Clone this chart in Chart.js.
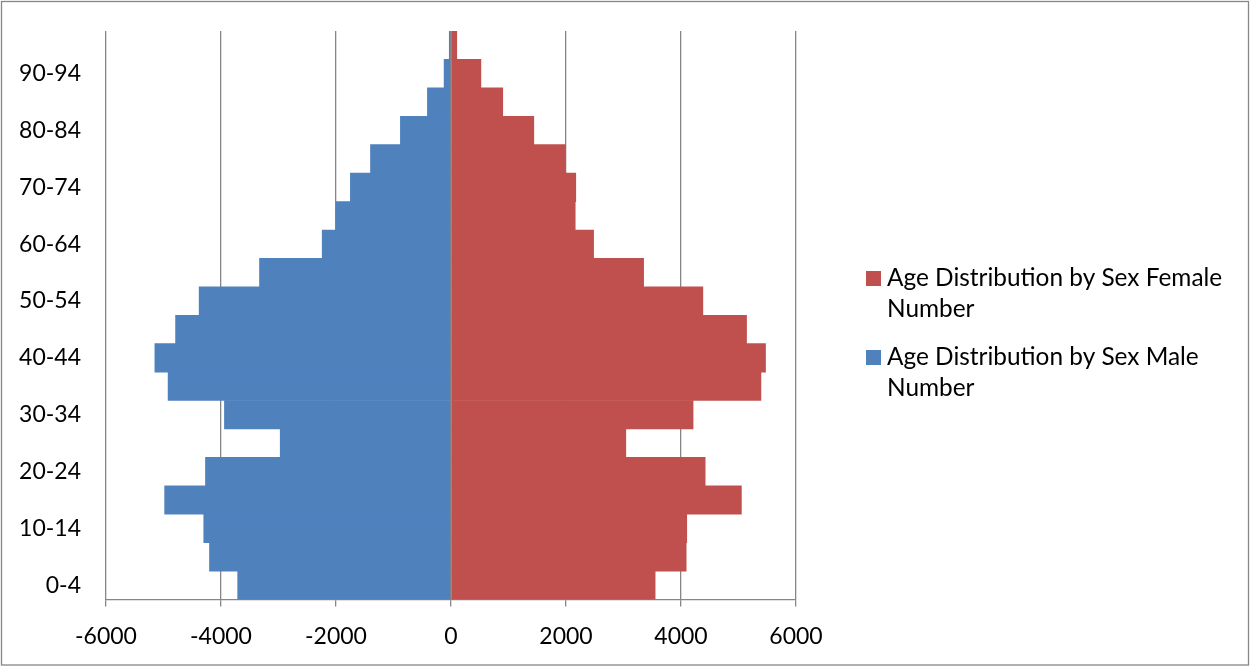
<!DOCTYPE html>
<html>
<head>
<meta charset="utf-8">
<title>Age Distribution by Sex</title>
<script src="https://cdn.jsdelivr.net/npm/chart.js@4"></script>
<style>
  html, body { margin: 0; padding: 0; background: #ffffff; }
  #wrap { width: 1250px; height: 667px; }
</style>
</head>
<body>
<div id="wrap"><canvas id="pyramid" width="1250" height="667"></canvas></div>
<script>
// Five-year age groups, youngest first (drawn bottom to top)
const ageGroups = ['0-4', '5-9', '10-14', '15-19', '20-24', '25-29', '30-34', '35-39', '40-44', '45-49',
                   '50-54', '55-59', '60-64', '65-69', '70-74', '75-79', '80-84', '85-89', '90-94', '95-99'];

// Female counts (plotted to the right of zero)
const femaleNumber = [3550, 4090, 4100, 5050, 4420, 3040, 4210, 5390, 5470, 5140,
                      4380, 3350, 2480, 2160, 2170, 1990, 1440, 900, 520, 100];

// Male counts, stored negative so they extend to the left
const maleNumber = [-3710, -4200, -4300, -4980, -4270, -2970, -3940, -4920, -5150, -4790,
                    -4380, -3330, -2240, -2000, -1750, -1400, -880, -410, -120, -30];

const seriesNames = ['Age Distribution by Sex Female Number', 'Age Distribution by Sex Male Number'];

// Horizontal axis ticks
const xTicks = [-6000, -4000, -2000, 0, 2000, 4000, 6000];

const FONT = 'Lato, "Open Sans", sans-serif';
const GRID = '#868686';

// Grey frame round the whole picture
const framePlugin = {
  id: 'frame',
  beforeDraw(chart) {
    const ctx = chart.ctx;
    ctx.save();
    ctx.fillStyle = '#ffffff';
    ctx.fillRect(0, 0, chart.width, chart.height);
    ctx.strokeStyle = GRID;
    ctx.lineWidth = 1.3;
    ctx.strokeRect(1.5, 1.5, chart.width - 3, chart.height - 3.5);
    ctx.restore();
  }
};

// Vertical category axis line at zero, drawn over the bars
const zeroLinePlugin = {
  id: 'zeroLine',
  afterDatasetsDraw(chart) {
    const x = chart.scales.x.getPixelForValue(0);
    const a = chart.chartArea;
    const ctx = chart.ctx;
    ctx.save();
    ctx.strokeStyle = GRID;
    ctx.lineWidth = 1.5;
    ctx.beginPath();
    ctx.moveTo(x, a.top);
    ctx.lineTo(x, a.bottom);
    ctx.stroke();
    ctx.restore();
  }
};

// Legend at the right with wrapped series names
const sideLegendPlugin = {
  id: 'sideLegend',
  afterDraw(chart) {
    const ctx = chart.ctx;
    const opts = chart.options.plugins.sideLegend;
    ctx.save();
    ctx.font = opts.fontSize + 'px ' + FONT;
    ctx.textBaseline = 'alphabetic';
    ctx.textAlign = 'left';
    let baseline = opts.top;
    chart.data.datasets.forEach((ds) => {
      // wrap label into lines
      const words = ds.label.split(' ');
      const lines = [];
      let cur = '';
      words.forEach((w) => {
        const test = cur ? cur + ' ' + w : w;
        if (ctx.measureText(test).width > opts.maxWidth && cur) {
          lines.push(cur);
          cur = w;
        } else {
          cur = test;
        }
      });
      if (cur) lines.push(cur);

      ctx.fillStyle = ds.backgroundColor;
      ctx.fillRect(opts.boxX, baseline - opts.box, opts.box, opts.box);
      ctx.fillStyle = '#000000';
      lines.forEach((ln, i) => {
        ctx.fillText(ln, opts.textX, baseline + i * opts.lineHeight);
      });
      baseline += opts.entryGap;
    });
    ctx.restore();
  }
};

new Chart(document.getElementById('pyramid'), {
  type: 'bar',
  data: {
    labels: ageGroups,
    datasets: [
      {
        label: seriesNames[0],
        data: femaleNumber,
        backgroundColor: '#C0504D',
        borderWidth: 0,
        barPercentage: 1.0,
        categoryPercentage: 1.0
      },
      {
        label: seriesNames[1],
        data: maleNumber,
        backgroundColor: '#4F81BD',
        borderWidth: 0,
        barPercentage: 1.0,
        categoryPercentage: 1.0
      }
    ]
  },
  options: {
    indexAxis: 'y',
    responsive: false,
    animation: false,
    devicePixelRatio: 1,
    layout: { padding: { top: 31, right: 454, left: 0, bottom: 0 } },
    plugins: {
      legend: { display: false },
      tooltip: { enabled: false },
      sideLegend: {
        fontSize: 24.4,
        top: 286,
        lineHeight: 31,
        entryGap: 79,
        boxX: 866,
        box: 15,
        textX: 887,
        maxWidth: 340
      }
    },
    scales: {
      x: {
        type: 'linear',
        stacked: true,
        min: -6000,
        max: 6000,
        afterBuildTicks(scale) {
          scale.ticks = xTicks.map((v) => ({ value: v }));
        },
        afterFit(scale) { scale.height = 67.5; },
        grid: {
          color: GRID,
          lineWidth: 1.3,
          drawTicks: true,
          tickLength: 7,
          tickColor: GRID
        },
        border: { display: true, color: GRID, width: 1.3 },
        ticks: {
          color: '#000000',
          font: { family: FONT, size: 23 },
          padding: 16,
          maxRotation: 0,
          callback: (v) => String(v)
        }
      },
      y: {
        type: 'category',
        stacked: true,
        reverse: true,
        afterFit(scale) {
          scale.width = 106;
          scale.paddingTop = 0;
          scale.paddingBottom = 0;
        },
        grid: { display: false, drawTicks: false },
        border: { display: false },
        ticks: {
          autoSkip: false,
          color: '#000000',
          font: { family: FONT, size: 23 },
          padding: 25,
          callback: function (value, index) {
            return index % 2 === 0 ? this.getLabelForValue(value) : '';
          }
        }
      }
    }
  },
  plugins: [framePlugin, zeroLinePlugin, sideLegendPlugin]
});
</script>
</body>
</html>
